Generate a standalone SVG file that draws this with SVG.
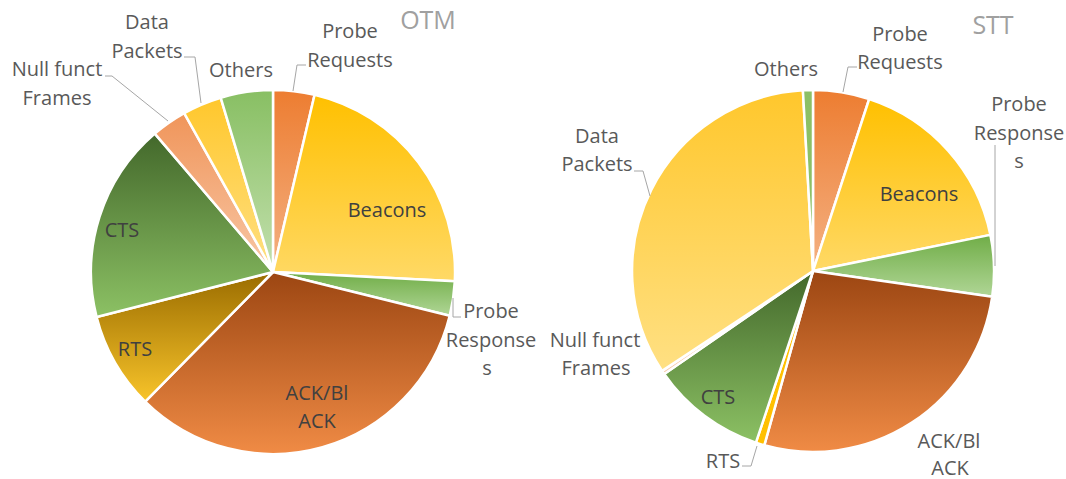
<svg xmlns="http://www.w3.org/2000/svg" width="1066" height="479" viewBox="0 0 1066 479">
<defs>
<linearGradient id="gOrange" x1="0" y1="0" x2="0" y2="1"><stop offset="0" stop-color="#ED7D31"/><stop offset="1" stop-color="#F4B183"/></linearGradient>
<linearGradient id="gGold" x1="0" y1="0" x2="0" y2="1"><stop offset="0" stop-color="#FFC000"/><stop offset="1" stop-color="#FFD966"/></linearGradient>
<linearGradient id="gGreen" x1="0" y1="0" x2="0" y2="1"><stop offset="0" stop-color="#70AD47"/><stop offset="1" stop-color="#B0D696"/></linearGradient>
<linearGradient id="gAck" x1="0" y1="0" x2="0" y2="1"><stop offset="0" stop-color="#9C4612"/><stop offset="1" stop-color="#F08B45"/></linearGradient>
<linearGradient id="gRts" x1="0" y1="0" x2="0" y2="1"><stop offset="0" stop-color="#9A6C00"/><stop offset="1" stop-color="#F8C42A"/></linearGradient>
<linearGradient id="gCts" x1="0" y1="0" x2="0" y2="1"><stop offset="0" stop-color="#43682B"/><stop offset="1" stop-color="#8CC164"/></linearGradient>
<linearGradient id="gNull" x1="0" y1="0" x2="0" y2="1"><stop offset="0" stop-color="#F0955A"/><stop offset="1" stop-color="#F8C7A6"/></linearGradient>
<linearGradient id="gData" x1="0" y1="0" x2="0" y2="1"><stop offset="0" stop-color="#FFC72C"/><stop offset="1" stop-color="#FFE083"/></linearGradient>
<linearGradient id="gOthers" x1="0" y1="0" x2="0" y2="1"><stop offset="0" stop-color="#88BF63"/><stop offset="1" stop-color="#C3E0AE"/></linearGradient>
</defs>
<style>
.s{stroke:#FFFFFF;stroke-width:2.5;stroke-linejoin:round}
text{font-family:"Open Sans","Noto Sans","Liberation Sans",sans-serif;font-size:20px;text-anchor:middle}
.in{fill:#404040}
.out{fill:#595959}
.title{fill:#A0A0A0;font-size:25px}
.lead{fill:none;stroke:#A6A6A6;stroke-width:1}
</style>
<rect width="1066" height="479" fill="#FFFFFF"/>

<g id="chart-otm">
<g id="otm-probe-requests"><path class="s" fill="url(#gOrange)" d="M273,272 L273,90 A182,182 0 0 1 314.6,94.8 Z"/></g>
<g id="otm-beacons"><path class="s" fill="url(#gGold)" d="M273,272 L314.6,94.8 A182,182 0 0 1 454.8,281.2 Z"/></g>
<g id="otm-probe-responses"><path class="s" fill="url(#gGreen)" d="M273,272 L454.8,281.2 A182,182 0 0 1 449.7,315.7 Z"/></g>
<g id="otm-ack"><path class="s" fill="url(#gAck)" d="M273,272 L449.7,315.7 A182,182 0 0 1 145.2,401.6 Z"/></g>
<g id="otm-rts"><path class="s" fill="url(#gRts)" d="M273,272 L145.2,401.6 A182,182 0 0 1 96.6,317.0 Z"/></g>
<g id="otm-cts"><path class="s" fill="url(#gCts)" d="M273,272 L96.6,317.0 A182,182 0 0 1 154.8,133.6 Z"/></g>
<g id="otm-null"><path class="s" fill="url(#gNull)" d="M273,272 L154.8,133.6 A182,182 0 0 1 184.2,113.1 Z"/></g>
<g id="otm-data"><path class="s" fill="url(#gData)" d="M273,272 L184.2,113.1 A182,182 0 0 1 220.7,97.7 Z"/></g>
<g id="otm-others"><path class="s" fill="url(#gOthers)" d="M273,272 L220.7,97.7 A182,182 0 0 1 273,90 Z"/></g>
</g>

<g id="chart-stt">
<g id="stt-probe-requests"><path class="s" fill="url(#gOrange)" d="M813,271 L813,90 A181,181 0 0 1 869.2,99.0 Z"/></g>
<g id="stt-beacons"><path class="s" fill="url(#gGold)" d="M813,271 L869.2,99.0 A181,181 0 0 1 990.4,234.9 Z"/></g>
<g id="stt-probe-responses"><path class="s" fill="url(#gGreen)" d="M813,271 L990.4,234.9 A181,181 0 0 1 992.2,296.8 Z"/></g>
<g id="stt-ack"><path class="s" fill="url(#gAck)" d="M813,271 L992.2,296.8 A181,181 0 0 1 764.3,445.3 Z"/></g>
<g id="stt-rts"><path class="s" fill="#FFC000" d="M813,271 L764.3,445.3 A181,181 0 0 1 755.9,442.7 Z"/></g>
<g id="stt-cts"><path class="s" fill="url(#gCts)" d="M813,271 L755.9,442.7 A181,181 0 0 1 664.2,374.0 Z"/></g>
<g id="stt-null"><path class="s" fill="#F8CBAD" d="M813,271 L664.2,374.0 A181,181 0 0 1 662.1,370.9 Z"/></g>
<g id="stt-data"><path class="s" fill="url(#gData)" d="M813,271 L662.1,370.9 A181,181 0 0 1 802.9,90.3 Z"/></g>
<g id="stt-others"><path class="s" fill="#8CC066" d="M813,271 L802.9,90.3 A181,181 0 0 1 813,90 Z"/></g>
</g>

<g id="connectors">
<polyline class="lead" points="105,76 112,76 168,121"/>
<polyline class="lead" points="184,57 195,57 201,103"/>
<polyline class="lead" points="306,65 297,65 293,91"/>
<polyline class="lead" points="453,298 453,317 461,317"/>
<polyline class="lead" points="634,171 643,171 650,196"/>
<polyline class="lead" points="857,67 848,67 843,92"/>
<polyline class="lead" points="995,145 995,266"/>
<polyline class="lead" points="742,466 751,466 757,446"/>
</g>

<g id="labels">
<text class="title" x="428" y="29">OTM</text>
<text class="out" x="147" y="29">Data</text>
<text class="out" x="147" y="58">Packets</text>
<text class="out" x="57" y="76">Null funct</text>
<text class="out" x="57" y="105">Frames</text>
<text class="out" x="241" y="77">Others</text>
<text class="out" x="350" y="38">Probe</text>
<text class="out" x="350" y="67">Requests</text>
<text class="in" x="387" y="217">Beacons</text>
<text class="in" x="122" y="237">CTS</text>
<text class="in" x="135" y="356">RTS</text>
<text class="in" x="317" y="400">ACK/Bl</text>
<text class="in" x="317" y="428">ACK</text>
<text class="out" x="491" y="318">Probe</text>
<text class="out" x="491" y="347">Response</text>
<text class="out" x="487" y="375">s</text>

<text class="title" x="993" y="34">STT</text>
<text class="out" x="786" y="76">Others</text>
<text class="out" x="900" y="41">Probe</text>
<text class="out" x="900" y="69">Requests</text>
<text class="out" x="1019" y="111">Probe</text>
<text class="out" x="1019" y="140">Response</text>
<text class="out" x="1019" y="168">s</text>
<text class="in" x="919" y="201">Beacons</text>
<text class="out" x="597" y="143">Data</text>
<text class="out" x="597" y="171">Packets</text>
<text class="out" x="595" y="347">Null funct</text>
<text class="out" x="596" y="375">Frames</text>
<text class="in" x="718" y="404">CTS</text>
<text class="out" x="723" y="468">RTS</text>
<text class="out" x="949" y="448">ACK/Bl</text>
<text class="out" x="950" y="475">ACK</text>
</g>
</svg>
